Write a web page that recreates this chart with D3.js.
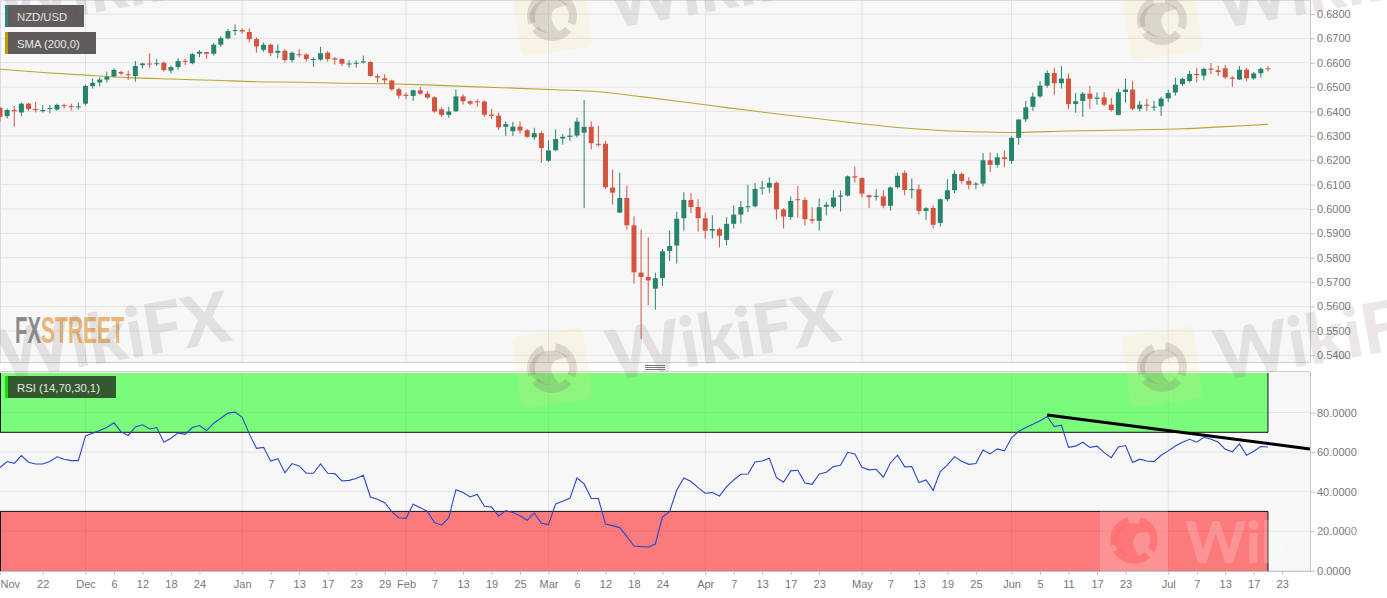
<!DOCTYPE html>
<html>
<head>
<meta charset="utf-8">
<script src="https://cdnjs.cloudflare.com/ajax/libs/d3/7.8.5/d3.min.js"></script>
<style>
  html, body { margin: 0; padding: 0; background: #fff; overflow: hidden; }
  svg { display: block; }
  text { font-family: "Liberation Sans", Arial, sans-serif; }
  .axis text { font-size: 11px; fill: #777; }
  .axis line, .axis path { stroke: #c4c4c4; }
</style>
</head>
<body>
<div id="chart"></div>
<script>
// NZD/USD daily candles
const opens = [
  .6415,.6381,.6406,.6396,.6432,.6410,.6401,.6411,.6408,.6426,
  .6422,.6417,.6432,.6504,.6519,.6531,.6544,.6562,.6553,.6545,
  .6590,.6597,.6594,.6600,.6568,.6582,.6608,.6598,.6637,.6644,
  .6637,.6674,.6700,.6731,.6734,.6726,.6697,.6653,.6674,.6641,
  .6649,.6611,.6635,.6634,.6612,.6613,.6641,.6618,.6615,.6594,
  .6598,.6601,.6603,.6545,.6536,.6527,.6491,.6469,.6464,.6487,
  .6473,.6458,.6409,.6386,.6401,.6462,.6442,.6442,.6441,.6387,
  .6383,.6337,.6319,.6338,.6323,.6294,.6311,.6198,.6241,.6289,
  .6296,.6301,.6313,.6337,.6267,.6268,.6088,.5985,.6045,.5933,
  .5739,.5721,.5673,.5717,.5828,.5850,.5962,.6037,.6008,.5962,
  .5911,.5917,.5873,.5939,.5977,.6007,.6011,.6084,.6088,.6107,
  .5998,.5967,.6040,.6037,.5958,.5951,.6009,.6009,.6050,.6055,
  .6134,.6127,.6056,.6050,.6052,.6013,.6089,.6148,.6078,.6081,
  .5992,.6004,.5943,.6040,.6077,.6144,.6115,.6100,.6104,.6200,
  .6181,.6212,.6197,.6292,.6368,.6419,.6462,.6506,.6558,.6516,
  .6535,.6431,.6443,.6473,.6452,.6458,.6428,.6386,.6480,.6490,
  .6411,.6428,.6417,.6421,.6454,.6478,.6512,.6525,.6554,.6547,
  .6576,.6569,.6577,.6539,.6531,.6572,.6536,.6557,.6577];
const highs = [
  .6420,.6412,.6422,.6436,.6436,.6440,.6427,.6427,.6432,.6432,
  .6432,.6437,.6510,.6536,.6540,.6564,.6577,.6567,.6567,.6607,
  .6600,.6638,.6616,.6605,.6589,.6618,.6616,.6641,.6652,.6645,
  .6682,.6709,.6738,.6757,.6741,.6741,.6704,.6683,.6679,.6675,
  .6657,.6646,.6655,.6638,.6622,.6665,.6648,.6624,.6618,.6610,
  .6610,.6629,.6606,.6553,.6553,.6531,.6497,.6478,.6490,.6501,
  .6484,.6462,.6417,.6419,.6490,.6471,.6446,.6450,.6445,.6411,
  .6395,.6359,.6357,.6359,.6328,.6333,.6319,.6282,.6326,.6307,
  .6333,.6375,.6447,.6359,.6342,.6279,.6162,.6149,.6096,.5970,
  .5915,.5883,.5739,.5836,.5911,.5989,.6069,.6065,.6040,.5985,
  .5974,.5924,.5966,.6015,.6033,.6099,.6106,.6115,.6130,.6112,
  .6003,.6052,.6095,.6047,.6007,.6043,.6028,.6077,.6076,.6137,
  .6174,.6130,.6060,.6081,.6076,.6092,.6149,.6158,.6125,.6100,
  .6007,.6014,.6043,.6122,.6158,.6149,.6130,.6110,.6229,.6232,
  .6229,.6240,.6298,.6368,.6443,.6478,.6525,.6569,.6579,.6586,
  .6556,.6476,.6480,.6505,.6478,.6480,.6456,.6494,.6535,.6525,
  .6443,.6452,.6443,.6460,.6490,.6539,.6539,.6566,.6580,.6580,
  .6599,.6588,.6591,.6545,.6586,.6579,.6562,.6580,.6587];
const lows = [
  .6358,.6371,.6337,.6381,.6403,.6396,.6396,.6392,.6403,.6412,
  .6404,.6408,.6425,.6494,.6503,.6519,.6540,.6548,.6529,.6522,
  .6577,.6579,.6587,.6563,.6556,.6572,.6590,.6594,.6622,.6616,
  .6630,.6665,.6696,.6713,.6720,.6683,.6642,.6645,.6627,.6618,
  .6601,.6601,.6622,.6604,.6583,.6608,.6604,.6593,.6587,.6580,
  .6580,.6597,.6542,.6519,.6512,.6484,.6452,.6450,.6443,.6469,
  .6452,.6394,.6378,.6374,.6398,.6428,.6426,.6420,.6378,.6369,
  .6324,.6300,.6300,.6309,.6292,.6283,.6189,.6193,.6237,.6264,
  .6279,.6293,.6004,.6244,.6255,.6082,.6018,.5984,.5915,.5694,
  .5467,.5606,.5587,.5684,.5787,.5776,.5911,.5983,.5907,.5877,
  .5879,.5842,.5850,.5920,.5940,.5987,.6007,.6059,.6066,.5957,
  .5920,.5955,.5963,.5932,.5940,.5911,.5974,.6003,.5989,.6051,
  .6108,.6047,.6004,.6035,.6003,.5993,.6084,.6056,.6043,.5977,
  .5955,.5920,.5928,.6032,.6065,.6104,.6081,.6082,.6092,.6151,
  .6169,.6171,.6186,.6264,.6357,.6402,.6456,.6498,.6468,.6494,
  .6411,.6395,.6378,.6411,.6428,.6421,.6400,.6383,.6437,.6405,
  .6400,.6402,.6402,.6382,.6439,.6465,.6504,.6519,.6519,.6528,
  .6553,.6546,.6534,.6501,.6530,.6525,.6530,.6539,.6564];
const closes = [
  .6378,.6406,.6401,.6432,.6410,.6406,.6406,.6414,.6427,.6423,
  .6419,.6421,.6505,.6518,.6531,.6542,.6571,.6556,.6549,.6587,
  .6597,.6593,.6598,.6570,.6582,.6607,.6605,.6635,.6645,.6637,
  .6674,.6701,.6730,.6734,.6728,.6697,.6667,.6674,.6639,.6649,
  .6611,.6641,.6631,.6615,.6615,.6639,.6615,.6613,.6596,.6597,
  .6600,.6606,.6546,.6539,.6528,.6491,.6465,.6464,.6487,.6473,
  .6457,.6400,.6386,.6400,.6462,.6442,.6432,.6439,.6387,.6382,
  .6335,.6348,.6338,.6322,.6296,.6311,.6250,.6240,.6287,.6296,
  .6301,.6359,.6337,.6270,.6263,.6089,.6067,.6045,.5933,.5740,
  .5721,.5707,.5716,.5826,.5848,.5960,.6037,.6008,.5962,.5911,
  .5918,.5890,.5939,.5977,.6008,.6011,.6082,.6088,.6107,.5998,
  .5969,.6033,.6036,.5958,.5952,.6007,.6017,.6047,.6055,.6134,
  .6129,.6063,.6048,.6054,.6013,.6088,.6136,.6078,.6081,.5992,
  .6003,.5935,.6040,.6077,.6144,.6115,.6099,.6104,.6200,.6181,
  .6212,.6205,.6292,.6367,.6417,.6461,.6506,.6558,.6516,.6535,
  .6430,.6442,.6473,.6452,.6457,.6428,.6406,.6479,.6490,.6411,
  .6428,.6424,.6420,.6453,.6476,.6510,.6534,.6554,.6549,.6575,
  .6571,.6562,.6540,.6534,.6571,.6536,.6556,.6575,.6573];

// SMA 200, read every few sessions
const smaDays = [0,6,12,18,24,30,36,42,48,54,60,66,72,78,84,90,96,102,108,114,120,126,132,138,142,150,158,166,172,178];
const smaValues = [.6573,.6560,.6549,.6539,.6533,.6528,.6522,.6520,.6516,.6514,.6509,.6502,.6496,.6489,.6481,.6461,
  .6439,.6416,.6394,.6373,.6353,.6334,.6322,.6316,.6314,.6320,.6324,.6329,.6338,.6347];

const rsiValues = [
  52.2,55.2,54.3,58.2,54.9,54.0,54.0,55.2,57.6,56.4,
  55.7,55.7,68.2,69.5,70.9,72.4,74.8,70.2,68.4,72.7,
  73.8,71.7,72.4,65.0,67.0,69.7,69.0,72.4,73.4,70.9,
  74.6,77.1,79.7,80.2,77.6,69.2,61.9,62.4,55.5,56.7,
  49.5,54.2,53.0,49.3,49.3,54.0,49.3,49.1,45.4,45.7,
  46.6,48.3,37.3,36.1,34.4,29.9,26.8,26.5,33.6,31.9,
  30.0,24.3,23.0,26.8,41.0,39.5,37.3,38.6,32.6,32.2,
  27.7,30.4,29.4,27.8,25.5,29.2,24.0,23.3,33.8,35.1,
  36.6,46.9,43.9,36.5,36.5,23.6,22.8,21.8,17.2,12.5,
  12.2,12.0,13.5,27.2,29.9,40.8,46.9,45.1,42.0,39.2,
  39.5,37.8,42.5,45.9,48.8,48.9,55.0,55.5,56.9,47.1,
  44.7,50.5,50.8,44.4,43.7,48.9,49.8,52.7,53.3,59.9,
  59.1,52.3,51.0,51.3,47.3,54.5,58.4,52.5,52.7,44.6,
  45.9,40.7,50.1,53.5,57.7,55.4,53.8,54.2,61.1,59.1,
  61.6,60.6,67.2,70.4,72.4,74.1,75.9,78.0,72.9,73.6,
  62.4,63.0,65.0,62.4,63.0,59.7,57.2,62.6,63.3,54.7,
  56.4,55.5,55.2,58.4,60.6,63.1,65.0,66.5,65.0,67.5,
  66.5,65.1,61.4,60.1,64.1,58.4,60.4,62.8,62.6];

// hand drawn trend line on the RSI: [session, value]
const trendDays = [147, 183.9];
const trendValues = [78.7, 61.6];

const tickDays = [0,6,12,16,20,24,28,34,38,42,46,50,54,57,61,65,69,73,77,81,85,89,93,99,103,107,111,115,121,125,129,133,137,142,146,150,154,158,164,168,172,176,180];
const tickLabels = ["Nov","22","Dec","6","12","18","24","Jan","7","13","17","23","29","Feb","7","13","19","25","Mar","6","12","18","24","Apr","7","13","17","23","May","7","13","19","25","Jun","5","11","17","23","Jul","7","13","17","23"];
const monthDays = [12,34,57,77,99,121,142,164];

const priceTicks = [.54,.55,.56,.57,.58,.59,.60,.61,.62,.63,.64,.65,.66,.67,.68];
const rsiTicks = [0,20,40,60,80];
const rsiUpper = 70;
const rsiLower = 30;

// layout
let svgWidth = 1387;
let svgHeight = 598;
let plotRight = 1310;
let priceTop = 1, priceBottom = 362;
let rsiTop = 373, rsiBottom = 571;
let candleWidth = 5;
let lastDay = closes.length - 1;

let svg = d3.select("#chart").append("svg")
  .attr("width", svgWidth)
  .attr("height", svgHeight);

// scales
let xScale = d3.scaleLinear().domain([0, 183.9]).range([0, plotRight]);
let priceScale = d3.scaleLinear().domain([.54, .68]).range([355.2, 14]);
let rsiScale = d3.scaleLinear().domain([0, 100]).range([570.7, rsiTop]);

// panel backgrounds
svg.append("rect").attr("x", 0).attr("y", priceTop).attr("width", plotRight).attr("height", priceBottom - priceTop).attr("fill", "#f7f7f8");
svg.append("rect").attr("x", 0).attr("y", rsiTop - 1).attr("width", plotRight).attr("height", rsiBottom - rsiTop + 1).attr("fill", "#f7f7f8");

// grid
let priceGrid = svg.append("g").attr("stroke", "#e4e4e6").attr("stroke-width", 1);
priceTicks.forEach(function(t) {
  priceGrid.append("line").attr("x1", 0).attr("x2", plotRight).attr("y1", priceScale(t)).attr("y2", priceScale(t));
});
rsiTicks.forEach(function(t) {
  priceGrid.append("line").attr("x1", 0).attr("x2", plotRight).attr("y1", rsiScale(t)).attr("y2", rsiScale(t));
});
monthDays.forEach(function(d) {
  priceGrid.append("line").attr("x1", xScale(d)).attr("x2", xScale(d)).attr("y1", priceTop).attr("y2", priceBottom);
  priceGrid.append("line").attr("x1", xScale(d)).attr("x2", xScale(d)).attr("y1", rsiTop).attr("y2", rsiBottom);
});

// panel borders
let borderColor = "#cfcfd2";
svg.append("line").attr("x1", 0).attr("x2", plotRight).attr("y1", 0.5).attr("y2", 0.5).attr("stroke", "#d9d9ee");
svg.append("line").attr("x1", 0.5).attr("x2", 0.5).attr("y1", 0).attr("y2", priceBottom).attr("stroke", "#d9d9ee");
svg.append("line").attr("x1", 0).attr("x2", plotRight).attr("y1", priceBottom + .5).attr("y2", priceBottom + .5).attr("stroke", borderColor);
svg.append("line").attr("x1", 0).attr("x2", plotRight).attr("y1", rsiTop - 1.5).attr("y2", rsiTop - 1.5).attr("stroke", borderColor);

// grip between the panels
[365.5, 367.5, 369.5].forEach(function(y) {
  svg.append("line").attr("x1", 645).attr("x2", 665).attr("y1", y).attr("y2", y).attr("stroke", "#777");
});

// SMA
let smaLine = d3.line()
  .x(function(d) { return xScale(d); })
  .y(function(d, i) { return priceScale(smaValues[i]); })
  .curve(d3.curveMonotoneX);
svg.append("path").datum(smaDays).attr("d", smaLine)
  .attr("fill", "none").attr("stroke", "#b9a62e").attr("stroke-width", 1.1);

// candles
let candleColor = function(i) { return closes[i] >= opens[i] ? "#27846c" : "#d4533f"; };
let candles = svg.append("g").selectAll("g").data(closes).enter().append("g");
candles.append("line")
  .attr("x1", function(d, i) { return xScale(i); })
  .attr("x2", function(d, i) { return xScale(i); })
  .attr("y1", function(d, i) { return priceScale(highs[i]); })
  .attr("y2", function(d, i) { return priceScale(lows[i]); })
  .attr("stroke", function(d, i) { return candleColor(i); });
candles.append("rect")
  .attr("x", function(d, i) { return xScale(i) - candleWidth / 2; })
  .attr("width", candleWidth)
  .attr("y", function(d, i) { return priceScale(Math.max(opens[i], closes[i])); })
  .attr("height", function(d, i) { return Math.max(1, Math.abs(priceScale(opens[i]) - priceScale(closes[i]))); })
  .attr("fill", function(d, i) { return candleColor(i); });

// RSI zones
let zoneRight = xScale(lastDay);
svg.append("rect").attr("x", 0).attr("y", rsiTop).attr("width", zoneRight).attr("height", rsiScale(rsiUpper) - rsiTop)
  .attr("fill", "rgb(0,255,0)").attr("fill-opacity", .5);
svg.append("rect").attr("x", 0).attr("y", rsiScale(rsiLower)).attr("width", zoneRight).attr("height", rsiBottom - rsiScale(rsiLower))
  .attr("fill", "rgb(255,0,0)").attr("fill-opacity", .5);
[rsiUpper, rsiLower].forEach(function(v) {
  svg.append("line").attr("x1", 0).attr("x2", zoneRight).attr("y1", rsiScale(v)).attr("y2", rsiScale(v)).attr("stroke", "#111");
  svg.append("line").attr("x1", .5).attr("x2", .5).attr("y1", v == rsiUpper ? rsiTop : rsiScale(v)).attr("y2", v == rsiUpper ? rsiScale(v) : rsiBottom).attr("stroke", "#111");
  svg.append("line").attr("x1", zoneRight).attr("x2", zoneRight).attr("y1", v == rsiUpper ? rsiTop : rsiScale(v)).attr("y2", v == rsiUpper ? rsiScale(v) : rsiBottom).attr("stroke", "#111");
});

// RSI line
let rsiLine = d3.line()
  .x(function(d, i) { return xScale(i); })
  .y(function(d) { return rsiScale(d); });
svg.append("path").datum(rsiValues).attr("d", rsiLine)
  .attr("fill", "none").attr("stroke", "#2a47c9").attr("stroke-width", 1.1);

// trend line
svg.append("line")
  .attr("x1", xScale(trendDays[0])).attr("x2", xScale(trendDays[1]))
  .attr("y1", rsiScale(trendValues[0])).attr("y2", rsiScale(trendValues[1]))
  .attr("stroke", "#000").attr("stroke-width", 3);

// axes
let priceAxis = d3.axisRight(priceScale).tickValues(priceTicks).tickSize(5).tickPadding(2).tickFormat(d3.format(".4f"));
let rsiAxis = d3.axisRight(rsiScale).tickValues(rsiTicks).tickSize(5).tickPadding(2).tickFormat(d3.format(".4f"));
let timeAxis = d3.axisBottom(xScale).tickValues(tickDays).tickSize(4).tickPadding(5)
  .tickFormat(function(d, i) { return tickLabels[i]; });

let priceAxisG = svg.append("g").attr("class", "axis").attr("transform", `translate(${plotRight},0)`).call(priceAxis);
priceAxisG.select(".domain").remove();
svg.append("line").attr("x1", plotRight + .5).attr("x2", plotRight + .5).attr("y1", 0).attr("y2", priceBottom).attr("stroke", "#c4c4c4");
let rsiAxisG = svg.append("g").attr("class", "axis").attr("transform", `translate(${plotRight},0)`).call(rsiAxis);
rsiAxisG.select(".domain").remove();
svg.append("line").attr("x1", plotRight + .5).attr("x2", plotRight + .5).attr("y1", rsiTop - 1).attr("y2", rsiBottom).attr("stroke", "#c4c4c4");

let timeAxisG = svg.append("g").attr("class", "axis").attr("transform", `translate(0,${rsiBottom})`).call(timeAxis);
timeAxisG.select(".domain").attr("d", `M0,0.5H${plotRight}`).attr("stroke", "#d9d9dc");
// first label would fall off the edge
timeAxisG.selectAll(".tick text").filter(function(d) { return d == 0; }).attr("text-anchor", "start");

// legend boxes
function legendBox(y, w, label, bg, swatch) {
  let g = svg.append("g");
  g.append("rect").attr("x", 5).attr("y", y).attr("width", w).attr("height", 22).attr("fill", bg);
  g.append("rect").attr("x", 5).attr("y", y).attr("width", 3).attr("height", 22).attr("fill", swatch);
  g.append("text").attr("x", 17).attr("y", y + 16).attr("font-size", "11.3px").attr("fill", "#e8e8e8").text(label);
}
legendBox(5, 79, "NZD/USD", "#5f5c5b", "#2a8a76");
legendBox(32, 91, "SMA (200,0)", "#5f5c5b", "#b5a000");
legendBox(376, 111, "RSI (14,70,30,1)", "#33592f", "#10e010");

// FXStreet logo
let logoFont = '"Liberation Sans Narrow", "Liberation Sans", sans-serif';
svg.append("text").attr("x", 15).attr("y", 343).attr("textLength", 26).attr("lengthAdjust", "spacingAndGlyphs")
  .style("font-family", logoFont).style("font-weight", "bold").style("font-size", "37px").attr("fill", "#8d8d8d").text("FX");
svg.append("text").attr("x", 41).attr("y", 343).attr("textLength", 83).attr("lengthAdjust", "spacingAndGlyphs")
  .style("font-family", logoFont).style("font-weight", "bold").style("font-size", "37px").attr("fill", "#e9b679").text("STREET");

// WikiFX watermarks, they sit over everything
let swirl = d3.arc().innerRadius(17).outerRadius(25);
function watermarkLogo(g, cx, cy, plate, mark) {
  let m = g.append("g").attr("transform", `translate(${cx},${cy}) rotate(-8)`);
  m.append("rect").attr("x", -36).attr("y", -36).attr("width", 72).attr("height", 72).attr("rx", 6).attr("fill", plate);
  [[.3, 2.1], [2.4, 4.2], [4.5, 6.0]].forEach(function(a) {
    m.append("path").attr("d", swirl({ startAngle: a[0], endAngle: a[1] })).attr("fill", mark);
  });
  // eagle head
  m.append("path").attr("d", "M-22,-4 C-16,-20 6,-22 17,-9 L4,-7 C-2,-3 -3,7 5,16 C-8,20 -24,10 -22,-4 Z").attr("fill", mark);
}
function watermarkText(g, x, y, angle, size, fill) {
  g.append("text").attr("transform", `translate(${x},${y}) rotate(${angle})`)
    .style("font-family", "Lato, 'Open Sans', sans-serif").style("font-weight", "900").style("font-size", size + "px")
    .attr("fill", fill).text("WikiFX");
}
let marks = svg.append("g").attr("pointer-events", "none");
let plate = "rgba(250,222,130,.16)";
let mark = "rgba(110,100,95,.2)";
let word = "rgba(125,105,100,.16)";
[[2, 29], [612, 29], [1220, 29], [2, 381], [612, 381], [1220, 381]].forEach(function(p) {
  watermarkText(marks, p[0], p[1], -10, 70, word);
});
[[552, 16], [1162, 20], [552, 368], [1162, 367]].forEach(function(p) {
  watermarkLogo(marks, p[0], p[1], plate, mark);
});
let whiteMarks = "rgba(255,255,255,.18)";
marks.append("rect").attr("x", 1100).attr("y", 511).attr("width", 68).attr("height", 60).attr("fill", whiteMarks);
let whiteLogo = marks.append("g").attr("transform", "translate(1134,540) scale(.95)");
[[.3, 2.1], [2.4, 4.2], [4.5, 6.0]].forEach(function(a) {
  whiteLogo.append("path").attr("d", swirl({ startAngle: a[0], endAngle: a[1] })).attr("fill", "rgba(255,110,110,.75)");
});
whiteLogo.append("path").attr("d", "M-22,-4 C-16,-20 6,-22 17,-9 L4,-7 C-2,-3 -3,7 5,16 C-8,20 -24,10 -22,-4 Z").attr("fill", "rgba(255,110,110,.75)");
watermarkText(marks, 1185, 563, 0, 58, whiteMarks);
</script>
</body>
</html>
